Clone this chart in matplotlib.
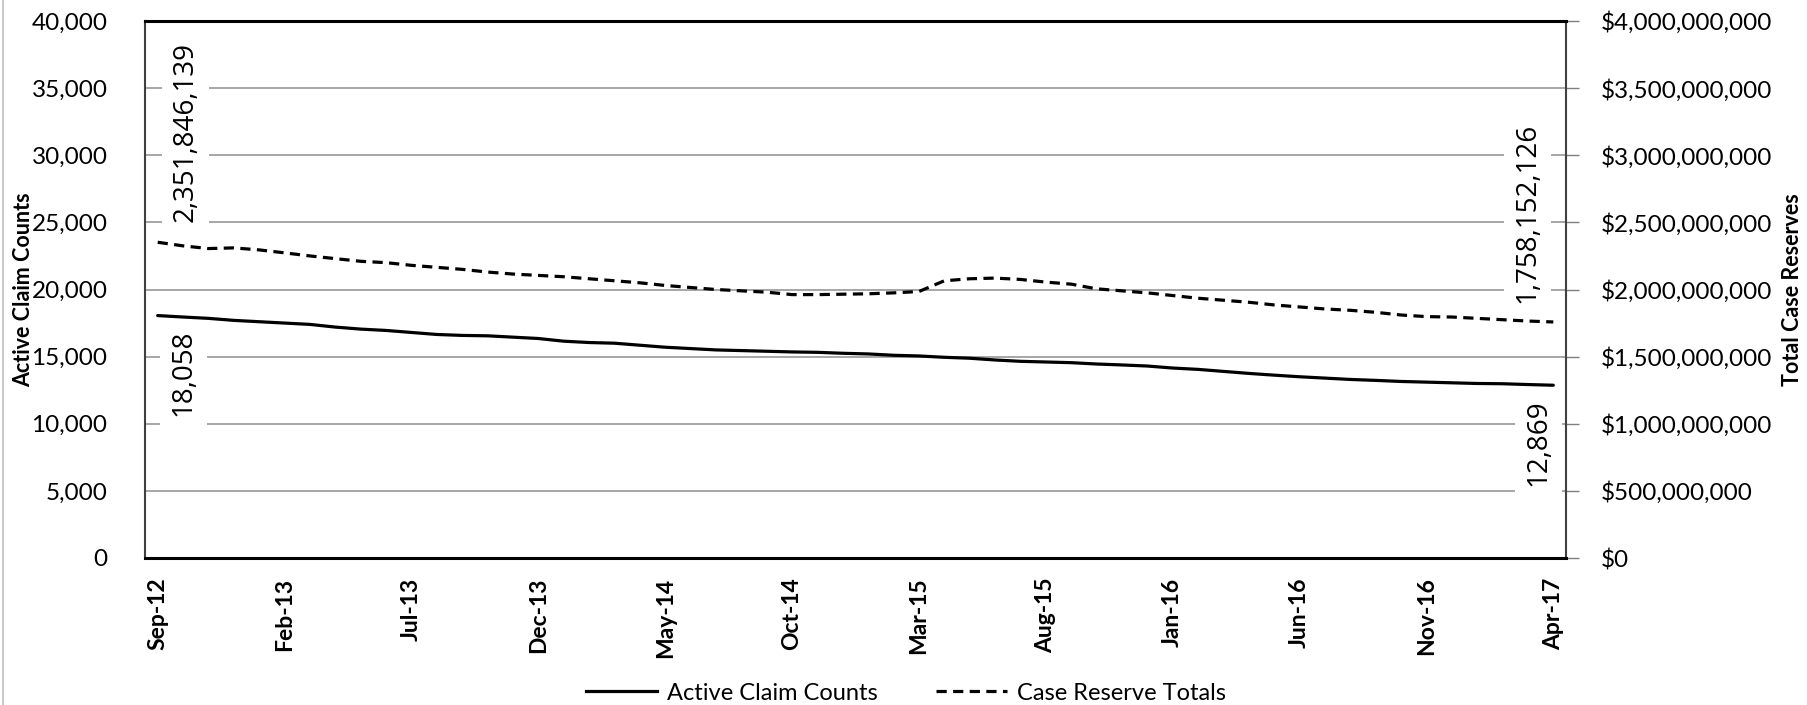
import matplotlib
matplotlib.use("Agg")
import matplotlib.pyplot as plt
from matplotlib.ticker import FuncFormatter, FixedLocator
import matplotlib.lines as mlines

# ---------------- data ----------------
months = ["Sep-12", "Oct-12", "Nov-12", "Dec-12", "Jan-13", "Feb-13", "Mar-13", "Apr-13", "May-13", "Jun-13",
          "Jul-13", "Aug-13", "Sep-13", "Oct-13", "Nov-13", "Dec-13", "Jan-14", "Feb-14", "Mar-14", "Apr-14",
          "May-14", "Jun-14", "Jul-14", "Aug-14", "Sep-14", "Oct-14", "Nov-14", "Dec-14", "Jan-15", "Feb-15",
          "Mar-15", "Apr-15", "May-15", "Jun-15", "Jul-15", "Aug-15", "Sep-15", "Oct-15", "Nov-15", "Dec-15",
          "Jan-16", "Feb-16", "Mar-16", "Apr-16", "May-16", "Jun-16", "Jul-16", "Aug-16", "Sep-16", "Oct-16",
          "Nov-16", "Dec-16", "Jan-17", "Feb-17", "Mar-17", "Apr-17"]

active_claims = [18058, 17950, 17850, 17700, 17600, 17500, 17400, 17200, 17050, 16950,
                 16800, 16650, 16580, 16550, 16450, 16350, 16150, 16050, 16000, 15850,
                 15700, 15600, 15500, 15450, 15400, 15350, 15320, 15250, 15200, 15100,
                 15050, 14950, 14880, 14750, 14650, 14600, 14550, 14450, 14380, 14300,
                 14150, 14050, 13900, 13750, 13620, 13500, 13400, 13300, 13230, 13150,
                 13100, 13050, 13000, 12980, 12920, 12869]

case_reserves = [2351846139, 2325000000, 2305000000, 2310000000, 2295000000, 2273000000, 2250000000,
                 2230000000, 2210000000, 2200000000, 2180000000, 2165000000, 2150000000, 2130000000,
                 2115000000, 2105000000, 2095000000, 2080000000, 2065000000, 2050000000, 2030000000,
                 2015000000, 2000000000, 1990000000, 1980000000, 1962000000, 1962000000, 1965000000,
                 1968000000, 1975000000, 1985000000, 2065000000, 2080000000, 2085000000, 2075000000,
                 2055000000, 2040000000, 2005000000, 1990000000, 1975000000, 1955000000, 1935000000,
                 1920000000, 1905000000, 1885000000, 1870000000, 1855000000, 1845000000, 1830000000,
                 1810000000, 1798000000, 1795000000, 1785000000, 1775000000, 1765000000, 1758152126]

left_ticks = [0, 5000, 10000, 15000, 20000, 25000, 30000, 35000, 40000]
right_ticks = [0, 500e6, 1000e6, 1500e6, 2000e6, 2500e6, 3000e6, 3500e6, 4000e6]
label_every = 5

series_names = ["Active Claim Counts", "Case Reserve Totals"]
left_title = "Active Claim Counts"
right_title = "Total Case Reserves"

# ---------------- figure ----------------
W, H, DPI = 1808, 705, 100
fig = plt.figure(figsize=(W / DPI, H / DPI), dpi=DPI)
L, R, T, B = 145, 1566, 21, 558
ax = fig.add_axes([L / W, 1 - B / H, (R - L) / W, (B - T) / H])
ax2 = ax.twinx()

TICKFONT = "Lato"
x = list(range(len(months)))

ax.plot(x, active_claims, color="black", lw=2.3, solid_capstyle="round", zorder=3)
ax2.plot(x, case_reserves, color="black", lw=2.3, linestyle=(0, (3.2, 2.0)), zorder=3)

ax.set_xlim(-0.5, len(months) - 0.5)
ax.set_ylim(left_ticks[0], left_ticks[-1])
ax2.set_ylim(right_ticks[0], right_ticks[-1])

ax.yaxis.set_major_locator(FixedLocator(left_ticks))
ax2.yaxis.set_major_locator(FixedLocator(right_ticks))
ax.yaxis.set_major_formatter(FuncFormatter(lambda v, p: f"{int(v):,}"))
ax2.yaxis.set_major_formatter(FuncFormatter(lambda v, p: f"${int(v):,}"))

ax.set_xticks(x[::label_every])
ax.set_xticklabels(months[::label_every], rotation=90, fontfamily=TICKFONT,
                   fontweight="bold", fontsize=16.5)
ax.tick_params(axis="x", length=0, pad=14)
ax.tick_params(axis="y", length=0, pad=27, labelsize=17.5)
ax2.tick_params(axis="y", length=9, width=1, color="#7f7f7f", pad=16, labelsize=17.5)
for lab in ax.get_yticklabels() + ax2.get_yticklabels():
    lab.set_fontfamily(TICKFONT)

# gridlines
for v in left_ticks[1:-1]:
    ax.axhline(v, color="#a6a6a6", lw=1.4, zorder=1)

for s in ["top", "bottom"]:
    ax2.spines[s].set_color("black")
    ax2.spines[s].set_linewidth(2.2)
for s in ["left", "right"]:
    ax2.spines[s].set_color("#404040")
    ax2.spines[s].set_linewidth(1.5)
for s in ax.spines.values():
    s.set_visible(False)

ylab_kw = dict(fontfamily=TICKFONT, fontweight="bold", fontsize=15.5)
ax.text(34 / W, 1 - 290 / H, left_title, transform=fig.transFigure, rotation=90,
        ha="right", va="center", **ylab_kw)
fig.text(1782 / W, 1 - 290 / H, right_title, rotation=90,
         ha="left", va="center", **ylab_kw)

# data labels
px = 0.72  # points per pixel at 100 dpi
LABFONT = "Open Sans"
bb = dict(boxstyle="square,pad=0.35", fc="white", ec="none")
ax2.annotate(f"{case_reserves[0]:,}", xy=(x[0], case_reserves[0]), xytext=(28 * px, 20 * px),
             textcoords="offset points", rotation=90, ha="center", va="bottom",
             fontsize=20, fontfamily=LABFONT, bbox=bb, zorder=5)
ax2.annotate(f"{active_claims[0]:,}", xy=(x[0], active_claims[0] * 1e5), xytext=(26 * px, -14 * px),
             textcoords="offset points", rotation=90, ha="center", va="top",
             fontsize=20, fontfamily=LABFONT, bbox=bb, zorder=5)
ax2.annotate(f"{case_reserves[-1]:,}", xy=(x[-1], case_reserves[-1]), xytext=(-26 * px, 19 * px),
             textcoords="offset points", rotation=90, ha="center", va="bottom",
             fontsize=20, fontfamily=LABFONT, bbox=bb, zorder=5)
ax2.annotate(f"{active_claims[-1]:,}", xy=(x[-1], active_claims[-1] * 1e5), xytext=(-15 * px, -14 * px),
             textcoords="offset points", rotation=90, ha="center", va="top",
             fontsize=20, fontfamily=LABFONT, bbox=bb, zorder=5)

# legend
h1 = mlines.Line2D([], [], color="black", lw=2.3)
h2 = mlines.Line2D([], [], color="black", lw=2.3, linestyle=(0, (3.2, 2.0)))
fig.legend([h1, h2], series_names, loc="center", bbox_to_anchor=(906 / W, 1 - 693 / H),
           ncol=2, frameon=False, handlelength=3.0, handletextpad=0.4, columnspacing=2.5,
           prop={"family": TICKFONT, "size": 17})

# chart-area border (left edge visible)
fig.add_artist(mlines.Line2D([3.5 / W, 3.5 / W], [0, 1], transform=fig.transFigure,
                             color="#bfbfbf", lw=1.2))

fig.savefig("out.png", dpi=DPI, facecolor="white")
